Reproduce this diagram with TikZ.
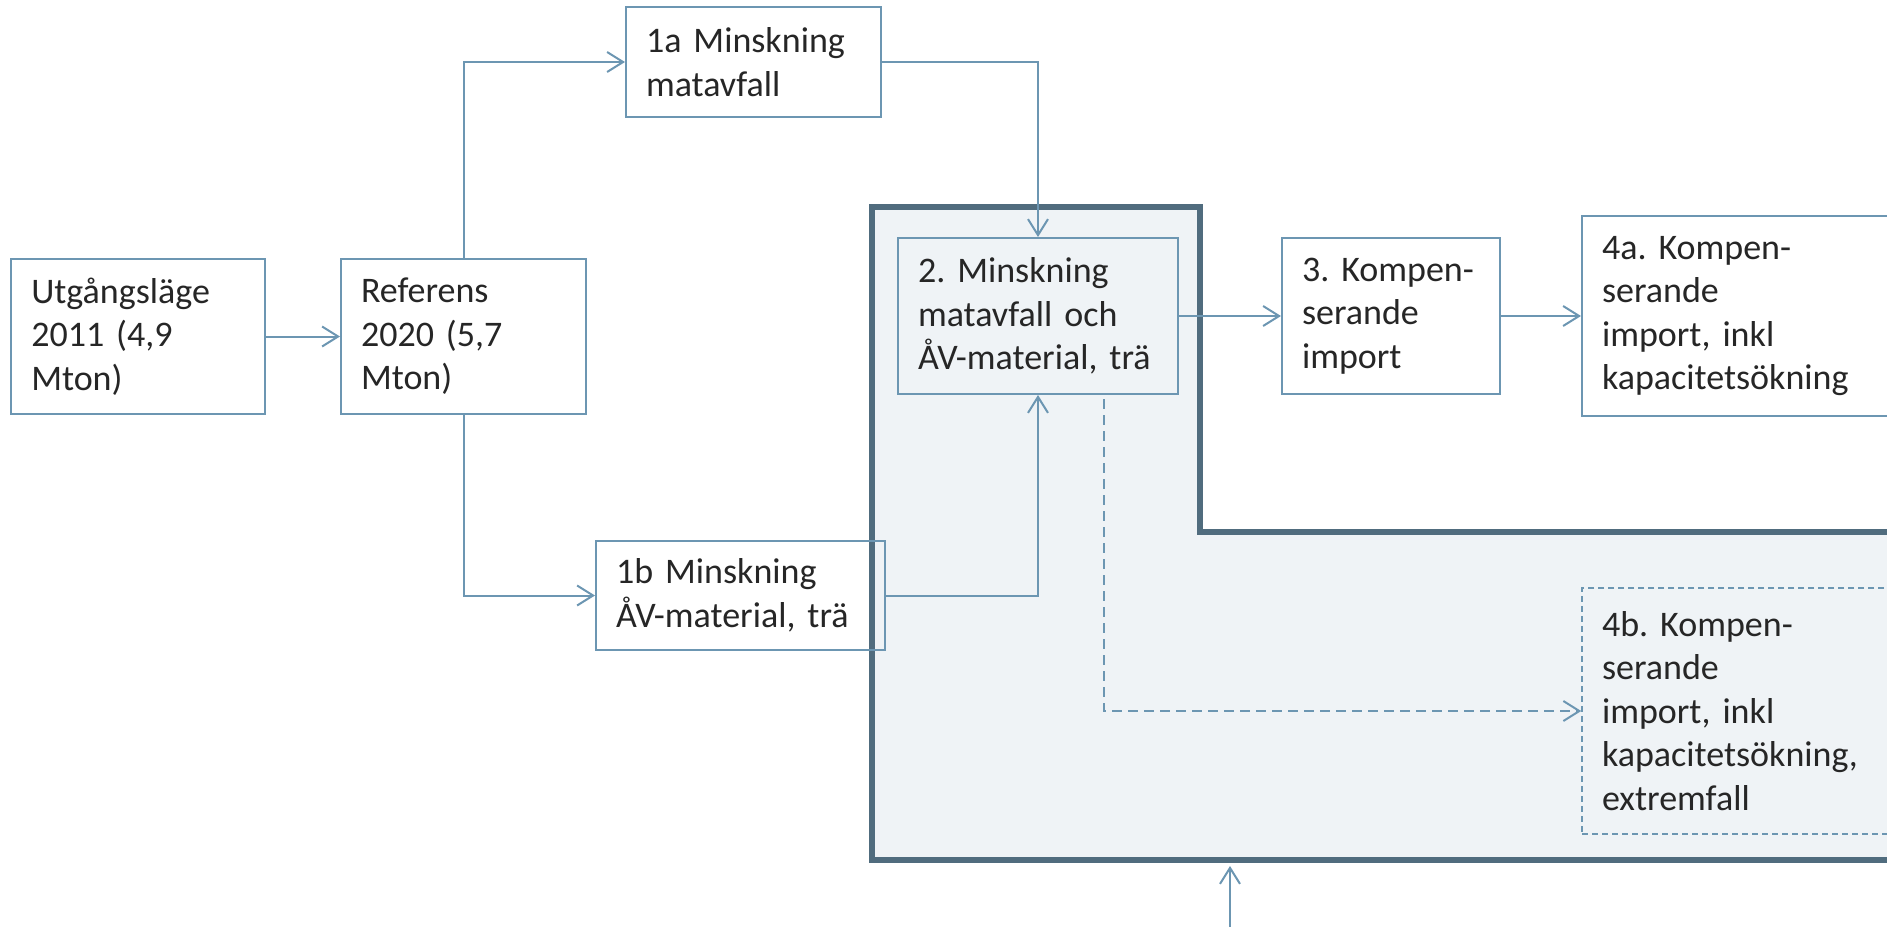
\documentclass[tikz,border=0pt]{standalone}
\usepackage{fontspec}
\setmainfont{Carlito}
\usepackage{xcolor}
\usepackage{tikz}
\usetikzlibrary{positioning,arrows.meta}
\frenchspacing

\definecolor{linkblue}{RGB}{108,150,178}
\definecolor{framegray}{RGB}{80,108,126}
\definecolor{framefill}{RGB}{239,243,246}
\definecolor{textgray}{RGB}{38,38,38}

\tikzset{
    stepbox/.style={draw=linkblue, line width=1pt, rectangle, align=left,
        inner xsep=10pt, inner ysep=0pt, text=textgray,
        font=\fontsize{18}{21.75}\selectfont},
    link/.style={draw=linkblue, line width=1pt,
        -{Straight Barb[length=8pt,width=10pt]}},
}

\begin{document}
\begin{tikzpicture}[x=0.5pt, y=-0.5pt]
    \useasboundingbox (0,0) rectangle (1887,927);
    \clip (0,0) rectangle (1887,927);

    % Shaded frame
    \filldraw[framegray, fill=framefill, line width=2.8pt]
        (872,207) -- (1200,207) -- (1200,532) -- (1910,532)
        -- (1910,860) -- (872,860) -- cycle;

    % Steps
    \node[stepbox, text width=106.75pt, minimum height=77.5pt] (utg) at (138,336.5) {Utgångsläge\\2011 (4,9\\Mton)};
    \node[stepbox, text width=102.5pt, minimum height=77.5pt] (ref) at (463.5,336.5) {Referens\\2020 (5,7\\Mton)};
    \node[stepbox, text width=107.5pt, minimum height=55pt] (onea) at (753.5,62) {1a Minskning\\matavfall};
    \node[stepbox, text width=124.5pt, minimum height=54.5pt] (oneb) at (740.5,595.5) {1b Minskning\\ÅV-material, trä};
    \node[stepbox, text width=120pt, minimum height=78pt] (two) at (1038,316) {2. Minskning\\matavfall och\\ÅV-material, trä};
    \node[stepbox, text width=89pt, minimum height=78pt] (three) at (1391,316) {3. Kompen-\\serande\\import};
    \node[stepbox, text width=139pt, minimum height=100pt] (foura) at (1741,316) {4a. Kompen-\\serande\\import, inkl\\kapacitetsökning};
    \node[stepbox, line width=0.75pt, dash pattern=on 3pt off 2pt, text width=139pt, minimum height=123pt] (fourb) at (1741,711) {4b. Kompen-\\serande\\import, inkl\\kapacitetsökning,\\extremfall};

    % Connectors
    \draw[link] (utg) -- (ref);
    \draw[link] (ref.north) |- (onea.west);
    \draw[link] (ref.south) |- (oneb.west);
    \draw[link] (onea.east) -| (two.north);
    \draw[link] (oneb.east) -| (two.south);
    \draw[link] (two) -- (three);
    \draw[link] (three) -- (foura);
    \draw[link, dash pattern=on 5pt off 3pt] ([xshift=33pt,yshift=-2pt]two.south) |- (fourb.west);

    % Inflow from below
    \coordinate (feed) at (1230,940);
    \coordinate (framein) at (1230,866);
    \draw[link] (feed) -- (framein);
\end{tikzpicture}
\end{document}
